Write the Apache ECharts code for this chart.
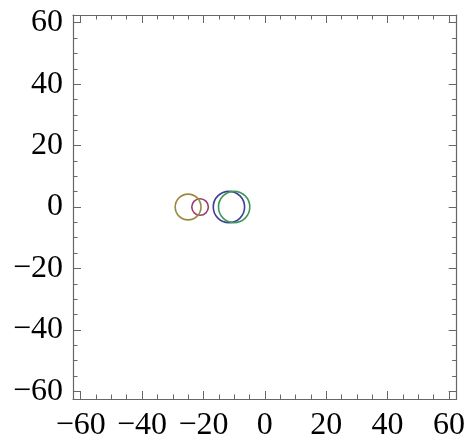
<!DOCTYPE html>
<html><head><meta charset="utf-8">
<script src="https://cdn.jsdelivr.net/npm/echarts@6/dist/echarts.min.js"></script>
<style>html,body{margin:0;padding:0;background:#fff}#c{width:468px;height:444px}</style>
</head><body><div id="c"></div>
<script>
// Data
const names = ['blue', 'magenta', 'gold', 'green'];
const centersX = [-11.7, -21.1, -25.0, -10.0];
const centersY = [0, 0, 0, 0];
const radii = [5.1, 2.7, 4.2, 5.1];
const colors = ['#3F3D99', '#993D71', '#998B3D', '#3D9956'];
const majorTicks = [-60, -40, -20, 0, 20, 40, 60];
const minorTicks = [];
for (let v = -60; v <= 60; v += 5) if (v % 20 !== 0) minorTicks.push(v);
const axisMin = -62.5, axisMax = 62.5;

const font = '"Liberation Serif", "Times New Roman", serif';
const lineCol = '#666';
const fmt = v => (v < 0 ? '\u2212' + Math.abs(v) : String(v));

function mkAxis(pos, major, labels, line, margin) {
  return {
    type: 'value', position: pos, min: axisMin, max: axisMax,
    splitLine: { show: false },
    axisLine: { show: line, onZero: false, lineStyle: { color: lineCol, width: 1.2 } },
    axisTick: { show: true, inside: true, length: major ? 8 : 4.5,
      customValues: major ? majorTicks : minorTicks,
      lineStyle: { color: lineCol, width: 1 } },
    axisLabel: { show: labels, customValues: majorTicks, formatter: fmt,
      fontFamily: font, fontSize: 32, color: '#000', margin: margin || 10 }
  };
}

const chart = echarts.init(document.getElementById('c'));
const series = names.map((n, i) => ({
  type: 'custom', name: n, xAxisIndex: 0, yAxisIndex: 0,
  data: [[centersX[i], centersY[i], radii[i]]],
  renderItem: (params, api) => {
    const c = api.coord([api.value(0), api.value(1)]);
    const r = api.size([api.value(2), 0])[0];
    return { type: 'circle', shape: { cx: c[0], cy: c[1], r: r },
      style: { fill: 'none', stroke: colors[i], lineWidth: 1.6 } };
  }
}));

chart.setOption({
  animation: false,
  grid: { left: 73, right: 11, top: 15, bottom: 45, containLabel: false },
  xAxis: [mkAxis('bottom', true, true, true, 11), mkAxis('bottom', false, false, false),
          mkAxis('top', true, false, true), mkAxis('top', false, false, false)],
  yAxis: [mkAxis('left', true, true, true, 10), mkAxis('left', false, false, false),
          mkAxis('right', true, false, true), mkAxis('right', false, false, false)],
  series: series
});
</script></body></html>
